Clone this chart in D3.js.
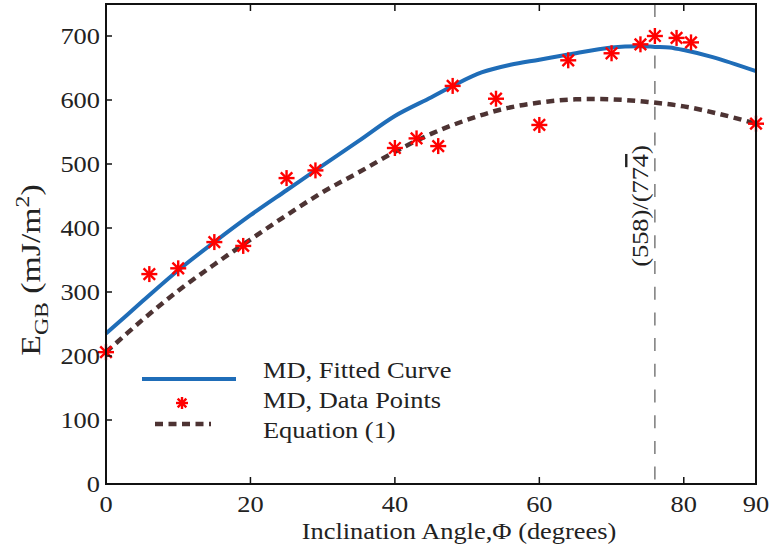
<!DOCTYPE html>
<html>
<head>
<meta charset="utf-8">
<script src="https://cdn.jsdelivr.net/npm/d3@7"></script>
<style>
html,body{margin:0;padding:0;background:#fff;}
svg text{font-family:"Liberation Serif","Times New Roman",serif;fill:#222;}
</style>
</head>
<body>
<svg id="chart" width="770" height="550"></svg>
<script>
// Data
const dataAngles = [0, 6, 10, 15, 19, 25, 29, 40, 43, 46, 48, 54, 60, 64, 70, 74, 76, 79, 81, 90];
const dataEnergy = [206, 328, 337, 378, 372, 478, 490, 525, 540, 528, 622, 602, 561, 662, 673, 687, 700, 697, 690, 563];

const fitAngles = [0, 5, 10, 15, 20, 25, 29, 35, 40, 45, 48, 52, 56, 60, 64, 70, 74, 76, 78, 80, 84, 90];
const fitEnergy = [235, 285, 334, 378, 420, 459, 490, 536, 575, 604, 622, 643, 655, 663, 671, 682, 684, 683, 682, 678, 667, 645];

const eqAngles = [0, 5, 10, 15, 20, 25, 30, 35, 40, 45, 50, 55, 60, 65, 70, 75, 80, 85, 90];
const eqEnergy = [206, 256, 302, 343, 382, 420, 456, 487, 519, 547, 569, 586, 596, 601, 601, 597, 590, 578, 563];

const xTicks = [0, 20, 40, 60, 80, 90];
const yTicks = [0, 100, 200, 300, 400, 500, 600, 700];
const markerAngle = 76;
const markerLabelParts = ["(558)/(77", "4", ")"];
const legendLabels = ["MD, Fitted Curve", "MD, Data Points", "Equation (1)"];

const svg = d3.select("#chart");
const L = 106, R = 756, T = 4, B = 484;
const x = d3.scaleLinear().domain([0, 90]).range([L, R]);
const y = d3.scaleLinear().domain([0, 750]).range([B, T]);
const FS = 24;
const SX = 1.1;

function txt(px, py, anchor, str, rot, fs, sx) {
  const g = svg.append("g").attr("transform",
    `translate(${px},${py})` + (rot ? ` rotate(${rot})` : "") + ` scale(${sx || SX},1)`);
  return g.append("text").attr("text-anchor", anchor).style("font-size", (fs || FS) + "px").text(str);
}

// dashed vertical marker
svg.append("line")
  .attr("x1", x(markerAngle)).attr("x2", x(markerAngle))
  .attr("y1", T).attr("y2", B)
  .attr("stroke", "#666").attr("stroke-width", 1.3)
  .attr("stroke-dasharray", "13,12.7");

// marker label (rotated)
const ml = txt(x(markerAngle) - 7, 206, "middle", null, -90);
ml.append("tspan").text(markerLabelParts[0]);
ml.append("tspan").text(markerLabelParts[1]).style("text-decoration", "overline");
ml.append("tspan").text(markerLabelParts[2]);

// curves
const fitPts = fitAngles.map((a, i) => [a, fitEnergy[i]]);
const eqPts = eqAngles.map((a, i) => [a, eqEnergy[i]]);
const lineGen = d3.line().x(d => x(d[0])).y(d => y(d[1])).curve(d3.curveCatmullRom.alpha(0.5));

svg.append("path").attr("d", lineGen(eqPts))
  .attr("fill", "none").attr("stroke", "#4d3333").attr("stroke-width", 4.5)
  .attr("stroke-dasharray", "8,5.5");

svg.append("path").attr("d", lineGen(fitPts))
  .attr("fill", "none").attr("stroke", "#1f6db8").attr("stroke-width", 4);

// star marker
function star(g, cx, cy, r) {
  const d = r * 0.72;
  const s = g.append("g").attr("transform", `translate(${cx},${cy})`)
    .attr("stroke", "#ff0000").attr("stroke-width", 2.4).attr("stroke-linecap", "butt");
  s.append("line").attr("x1", 0).attr("y1", -r).attr("x2", 0).attr("y2", r);
  s.append("line").attr("x1", -r).attr("y1", 0).attr("x2", r).attr("y2", 0);
  s.append("line").attr("x1", -d).attr("y1", -d).attr("x2", d).attr("y2", d);
  s.append("line").attr("x1", -d).attr("y1", d).attr("x2", d).attr("y2", -d);
}
const pts = svg.append("g");
dataAngles.forEach((a, i) => star(pts, x(a), y(dataEnergy[i]), 8));

// frame
svg.append("rect").attr("x", L).attr("y", T).attr("width", R - L).attr("height", B - T)
  .attr("fill", "none").attr("stroke", "#111").attr("stroke-width", 2);

// ticks
const tk = svg.append("g").attr("stroke", "#111").attr("stroke-width", 1.5);
xTicks.forEach(v => {
  tk.append("line").attr("x1", x(v)).attr("x2", x(v)).attr("y1", B).attr("y2", B - 7);
  tk.append("line").attr("x1", x(v)).attr("x2", x(v)).attr("y1", T).attr("y2", T + 7);
});
yTicks.forEach(v => {
  tk.append("line").attr("x1", L).attr("x2", L + 6).attr("y1", y(v)).attr("y2", y(v));
});

// tick labels
xTicks.forEach(v => txt(x(v), 512, "middle", v));
yTicks.forEach(v => txt(100, y(v) + 8, "end", v));

// axis titles
txt(459, 539, "middle", "Inclination Angle,\u03A6 (degrees)");

const yl = txt(40, 270, "middle", null, -90, 27, 1.25);
yl.append("tspan").text("E");
yl.append("tspan").text("GB").attr("dy", 8).style("font-size", "19px");
yl.append("tspan").text(" (mJ/m").attr("dy", -8);
yl.append("tspan").text("2").attr("dy", -11).style("font-size", "19px");
yl.append("tspan").text(")").attr("dy", 11);

// legend
const lg = svg.append("g");
lg.append("line").attr("x1", 142).attr("x2", 236).attr("y1", 379).attr("y2", 379)
  .attr("stroke", "#1f6db8").attr("stroke-width", 4);
star(lg, 182, 403, 6);
lg.append("line").attr("x1", 155).attr("x2", 211).attr("y1", 424).attr("y2", 424)
  .attr("stroke", "#4d3333").attr("stroke-width", 4.5).attr("stroke-dasharray", "8,5.5");
legendLabels.forEach((t, i) => txt(263, 378 + i * 30, "start", t));
</script>
</body>
</html>
